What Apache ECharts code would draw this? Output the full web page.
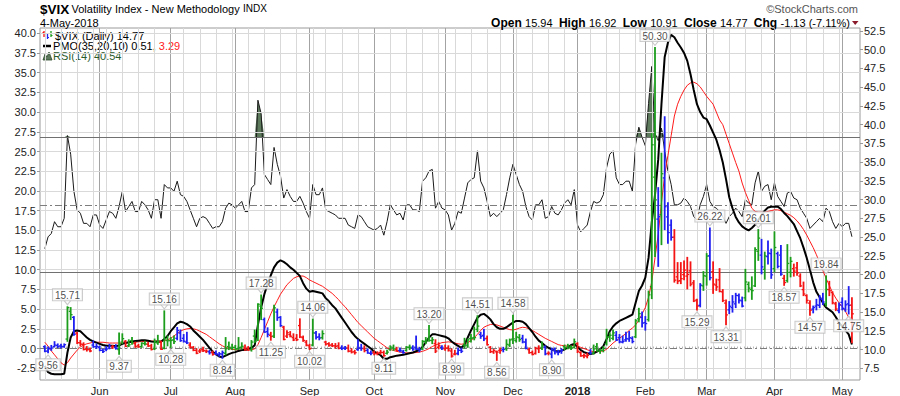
<!DOCTYPE html>
<html><head><meta charset="utf-8">
<script src="https://cdn.jsdelivr.net/npm/echarts@6/dist/echarts.min.js"></script>
<style>html,body{margin:0;padding:0;background:#fff}#c{width:900px;height:396px}</style>
</head><body><div id="c"></div>
<script>
// ---------- categories (trading days) ----------
const holidays = ['2017-05-29','2017-07-04','2017-09-04','2017-11-23','2017-12-25','2018-01-01','2018-01-15','2018-02-19','2018-03-30'];
function tradingDays(a, b){
  const out=[]; let d=new Date(a+'T00:00:00Z'); const e=new Date(b+'T00:00:00Z');
  while(d<=e){const s=d.toISOString().slice(0,10);const w=d.getUTCDay();
    if(w!==0&&w!==6&&holidays.indexOf(s)<0)out.push(s);d=new Date(d.getTime()+86400000);}
  return out;
}
const dates = tradingDays('2017-05-08','2018-05-04');
const padLeft = ['2017-05-05'], padRight = ['2018-05-07','2018-05-08'];

// ---------- $VIX daily OHLC ----------
const open = [
10.40,9.80,10.15,10.40,10.55,10.50,10.40,11.40,15.10,14.30,12.20,10.90,10.70,10.05,10.00,10.60,10.40,
10.30,9.90,10.00,10.20,10.35,10.30,10.00,11.00,11.10,10.50,11.20,10.80,10.50,10.40,10.80,10.70,10.50,10.10,10.90,11.00,10.20,11.20,
11.20,11.30,11.50,12.20,11.50,11.00,10.60,10.30,9.90,9.80,10.00,9.80,9.70,9.60,9.50,9.30,9.40,9.50,10.40,10.20,
10.30,10.10,10.30,10.20,10.20,10.00,11.80,11.30,15.80,14.00,12.40,11.90,11.80,15.00,14.30,13.00,11.80,12.00,11.60,11.50,13.20,11.60,11.00,
10.50,10.60,12.20,11.70,11.60,11.00,10.80,10.60,10.50,10.50,10.20,10.20,10.20,9.80,9.70,10.00,10.20,10.10,9.90,9.50,
9.60,9.50,9.60,9.60,9.50,10.00,10.20,10.00,9.90,9.70,9.90,10.30,10.20,10.30,10.00,10.10,11.10,11.40,11.20,10.80,10.30,10.30,
10.10,10.20,9.80,9.40,9.50,9.90,10.60,10.60,11.50,11.60,12.70,12.00,11.90,11.50,10.30,9.70,9.70,9.90,10.00,10.10,10.60,
11.40,11.20,11.60,11.50,11.00,10.00,9.60,9.50,10.10,10.20,10.30,9.50,9.40,9.90,9.60,9.80,10.40,10.30,10.30,10.30,
10.80,9.60,9.20,9.10,9.60,9.50,10.40,9.80,9.90,10.80,11.70,11.50,11.90,11.60,11.00,11.30,11.40,11.50,11.70,14.10,14.30,
13.60,14.00,18.40,33.00,27.40,28.00,32.90,27.70,26.60,25.00,19.70,19.20,20.00,19.80,20.50,18.90,16.60,15.90,18.50,
19.80,22.50,20.40,18.60,19.30,17.70,16.20,15.30,15.60,16.10,17.20,16.50,16.90,18.70,18.00,18.50,23.10,22.60,20.70,22.40,22.80,
20.80,22.80,22.60,19.50,19.20,20.30,20.80,20.90,19.80,18.00,17.20,16.20,15.40,15.80,15.90,16.70,16.10,18.00,17.60,16.10,15.20,
16.30,15.40,16.10,15.94];
const high = [
10.50,10.35,10.55,11.05,10.75,10.70,10.75,15.71,15.60,14.40,12.30,11.20,10.90,10.40,10.20,11.15,10.75,
10.45,10.05,10.40,10.70,10.55,10.65,12.20,12.10,11.20,11.30,11.60,11.00,10.70,10.90,11.10,10.95,10.70,11.40,11.90,11.10,15.16,11.80,
11.60,11.80,12.95,12.60,12.00,12.30,10.90,10.40,10.10,10.05,10.30,9.95,9.90,9.80,9.80,9.60,9.80,11.60,11.00,10.70,
10.55,11.60,10.90,10.60,10.40,11.20,12.60,16.10,17.28,14.20,12.90,12.30,15.90,15.40,14.40,13.10,12.50,12.40,12.10,12.00,14.10,11.80,11.20,
10.70,14.06,12.40,12.10,12.50,11.10,10.90,10.80,10.80,10.90,10.50,10.40,10.60,10.10,9.90,11.30,10.70,10.50,10.10,9.80,
9.80,9.70,9.90,9.80,9.90,10.50,10.60,10.30,10.20,9.90,10.40,10.60,10.50,11.80,10.30,11.20,11.60,13.20,11.60,11.30,10.90,10.50,
10.60,10.50,10.10,9.90,10.20,10.20,11.50,11.40,12.00,13.00,14.51,12.30,12.70,11.80,10.40,10.00,9.80,10.20,10.30,11.30,11.40,
14.58,12.30,12.00,11.90,11.40,10.20,9.80,10.30,10.50,11.00,10.50,9.70,10.20,10.20,9.90,10.10,10.60,10.70,10.50,11.40,
10.90,9.70,9.40,9.50,10.00,10.60,10.80,10.10,10.40,12.70,12.20,12.60,12.40,12.00,11.80,12.30,12.40,11.70,14.00,15.50,15.00,
14.40,17.80,38.80,50.30,31.60,36.20,41.06,29.60,27.30,26.00,21.60,21.60,21.80,22.30,21.70,19.20,16.70,18.80,20.40,
22.80,26.22,21.70,19.40,20.80,18.00,16.60,16.40,17.20,17.50,17.40,17.00,20.70,19.00,19.70,23.60,26.01,24.70,23.00,24.50,23.40,
25.70,23.00,23.90,19.90,24.00,22.30,21.40,21.60,20.10,19.00,17.30,16.50,15.80,16.70,17.20,17.50,19.84,19.10,17.70,16.30,16.20,
16.90,16.50,18.40,16.92];
const low = [
9.71,9.56,9.90,10.35,10.25,10.20,10.30,11.10,14.00,11.90,10.80,10.50,9.95,9.80,9.70,10.30,10.15,
9.85,9.60,9.85,10.10,10.15,10.05,9.37,10.80,10.40,10.40,10.70,10.30,10.30,10.30,10.60,10.40,9.95,10.00,10.70,10.00,10.10,10.50,
10.28,10.80,11.30,11.10,11.00,10.80,10.20,9.85,9.45,9.60,9.75,9.60,9.40,9.25,9.30,9.10,8.84,9.30,10.00,10.00,
9.95,10.00,10.10,9.90,9.90,9.80,10.90,11.20,14.00,12.30,11.70,11.25,11.60,13.90,13.10,11.30,11.60,11.70,11.20,11.20,11.60,11.10,10.50,
10.02,10.50,11.40,11.30,11.40,10.60,10.45,10.40,10.20,10.10,10.00,10.00,9.70,9.55,9.40,9.90,9.90,9.70,9.50,9.30,
9.30,9.30,9.40,9.11,9.40,9.90,9.90,9.80,9.70,9.50,9.80,10.00,9.90,10.00,9.70,10.00,10.80,11.10,10.80,9.60,10.10,10.00,
9.90,9.80,8.99,9.30,9.30,9.60,10.20,10.30,11.00,11.30,12.40,11.50,11.20,10.60,9.60,9.50,8.56,9.50,9.70,9.90,10.40,
10.80,11.00,11.10,10.90,10.10,9.50,9.30,9.40,9.60,10.00,9.30,9.30,8.90,9.40,9.30,9.50,10.00,10.10,10.00,10.20,
9.60,9.10,8.90,8.90,9.40,9.40,9.80,9.50,9.70,10.60,11.10,11.30,11.20,10.90,10.90,11.10,11.10,10.90,11.60,13.70,13.00,
12.60,13.80,16.80,22.40,21.10,24.00,26.00,24.20,24.60,19.00,18.80,18.80,19.30,18.10,18.50,16.40,15.29,15.70,17.90,
18.60,19.30,17.50,17.90,17.70,16.40,13.31,14.80,15.00,15.60,16.20,15.70,16.50,17.70,16.70,18.40,21.90,20.10,19.40,21.40,19.50,
20.40,20.90,19.90,18.57,19.00,19.70,19.80,19.90,18.40,17.20,16.20,14.57,14.90,15.30,15.60,16.00,15.80,17.20,16.10,15.20,14.90,
15.30,15.10,14.75,10.91];
const close = [
9.77,10.11,10.21,10.60,10.40,10.42,10.65,15.59,14.66,12.04,10.93,10.72,10.02,9.99,9.81,10.38,10.41,
9.89,9.75,10.07,10.45,10.39,10.16,10.70,11.46,10.42,10.64,10.90,10.38,10.37,10.86,10.75,10.48,10.02,11.06,11.06,10.03,11.44,11.18,
11.22,11.07,12.54,11.19,11.11,10.89,10.30,9.90,9.51,9.82,9.89,9.79,9.58,9.36,9.43,9.43,9.60,10.11,10.29,10.26,
10.09,10.28,10.44,10.03,10.00,11.00,11.11,16.04,15.51,12.33,12.04,11.74,15.55,14.26,13.19,11.35,12.25,11.78,11.28,11.32,11.70,11.22,10.59,
10.13,12.23,11.63,11.55,12.12,10.73,10.58,10.50,10.44,10.17,10.15,10.18,9.78,9.67,9.59,10.21,10.17,9.87,9.55,9.51,
9.45,9.51,9.63,9.19,9.65,10.33,10.08,9.85,9.91,9.61,10.31,10.31,10.07,10.05,9.97,11.07,11.16,11.23,11.30,9.80,10.50,10.18,
10.20,9.93,9.14,9.40,9.89,9.78,10.50,11.29,11.50,11.59,13.13,11.76,11.43,10.65,9.73,9.88,9.67,9.87,10.03,10.70,11.28,
11.43,11.68,11.33,11.02,10.16,9.58,9.34,10.18,10.18,10.49,9.42,9.53,10.03,9.72,9.62,9.90,10.25,10.47,10.18,11.04,
9.77,9.15,9.22,9.22,9.52,10.08,9.82,9.88,10.16,11.66,11.91,12.22,11.27,11.03,11.10,11.47,11.58,11.08,13.84,14.79,13.54,
13.47,17.31,37.32,29.98,27.73,33.46,29.06,25.61,24.97,19.26,19.13,19.46,20.60,20.02,18.72,16.49,15.80,18.59,19.85,
22.47,19.59,18.73,18.36,17.76,16.54,14.64,15.78,16.35,17.23,16.59,15.80,19.02,18.20,17.86,23.34,24.87,21.03,22.50,22.87,19.97,
23.62,21.10,20.06,18.94,21.49,21.77,20.47,20.24,18.49,17.41,16.56,15.25,15.60,15.96,16.88,16.34,18.02,17.84,16.24,15.41,15.93,
15.49,15.97,15.90,14.77];
// bar colour class per day (g = green, r = red, b = blue)
const impulse = ('bbbbbbbggbrrrrrbb'+'bbbbrbggrggrrggrrggrgg'+'ggbbbbrrrrrrbrbbbggg'+'gggrrggggbbrgbbrrrrrrrr'+
  'rgbbgrrrrrbbrrrbbrbb'+'rrrrgggrbbggbbbggggrrb'+'rrrrbbgggggbbrrrrrbgg'+'gggbbrrrrgbrbbbbgggg'+
  'rrrrbggggggg'+'bbbbbbggb'+'bgggbgbbbrrrrrrrrbg'+'gbrrrrrbbbbbgggggbgbb'+'gbbrggrrrrrrbbbbgrrrb'+'bbbr').split('');

// ---------- PMO(35,20,10) and signal ----------
const pmo = [
-2.2,-3.0,-3.2,-3.25,-3.26,-3.26,-3.2,-0.5,1.4,2.2,2.3,2.2,1.8,1.4,1.1,0.9,0.75,
0.6,0.45,0.35,0.35,0.35,0.3,0.4,0.6,0.7,0.8,0.9,0.95,1.0,1.05,1.05,1.0,0.9,0.85,0.9,0.85,1.2,1.6,
2.2,2.7,3.2,3.4,3.3,3.1,2.8,2.3,1.9,1.5,1.1,0.6,0.1,-0.4,-0.7,-1.0,-1.1,-0.9,-0.7,-0.55,
-0.45,-0.3,-0.2,-0.15,-0.05,0.1,0.4,3.0,5.2,6.9,8.2,9.3,10.3,10.9,11.2,11.0,10.7,10.3,10.0,9.6,9.2,8.3,7.6,
7.2,7.3,7.2,7.1,7.0,6.4,6.0,5.5,5.1,4.5,3.9,3.3,2.7,2.1,1.6,1.2,0.9,0.6,0.3,0.0,
-0.4,-0.6,-0.85,-1.3,-1.3,-1.1,-1.0,-0.9,-0.85,-0.8,-0.7,-0.6,-0.5,-0.35,-0.2,0.2,0.8,1.4,1.8,1.8,1.7,1.6,
1.5,1.3,0.9,0.6,0.35,0.1,0.5,1.4,2.3,3.1,3.9,4.3,4.4,4.1,3.7,3.1,2.7,2.5,2.5,2.7,3.0,
3.3,3.5,3.5,3.4,3.1,2.6,2.1,1.5,1.0,0.7,0.35,0.1,-0.1,-0.3,-0.35,-0.3,-0.1,0.15,0.45,0.6,
0.2,-0.2,-0.45,-0.6,-0.7,-0.6,-0.4,-0.1,0.3,1.2,2.2,2.8,3.2,3.5,3.7,3.9,4.1,4.3,5.8,7.3,8.0,
9.0,11.5,16.0,19.5,24.0,31.0,37.0,38.8,39.8,39.5,38.8,38.2,37.5,36.5,34.8,32.8,31.0,30.0,29.3,
29.1,28.3,27.4,26.5,25.2,23.6,21.5,19.2,17.8,16.7,16.0,15.5,15.2,15.0,15.3,15.7,16.3,16.9,17.5,17.9,18.0,
18.0,18.0,17.7,17.2,16.8,16.3,15.8,14.9,14.0,12.8,11.5,10.0,8.4,7.2,6.5,5.8,5.2,4.9,4.6,4.0,3.3,
2.8,2.3,1.8,0.51];
const pmoSignal = [
0.8,0.3,-0.3,-0.8,-1.3,-1.8,-2.1,-1.8,-1.2,-0.7,-0.2,0.2,0.45,0.6,0.7,0.8,0.8,
0.8,0.8,0.75,0.7,0.7,0.7,0.7,0.7,0.7,0.75,0.8,0.8,0.85,0.9,0.9,0.95,0.95,0.95,0.95,0.95,1.0,1.1,
1.3,1.6,1.9,2.2,2.4,2.5,2.55,2.5,2.4,2.2,2.0,1.8,1.5,1.2,0.9,0.6,0.35,0.15,0.0,-0.1,
-0.15,-0.2,-0.2,-0.2,-0.2,-0.15,-0.05,0.5,1.4,2.4,3.4,4.4,5.3,6.1,6.9,7.5,8.1,8.5,8.9,9.1,9.2,9.2,9.0,
8.7,8.5,8.3,8.1,7.9,7.6,7.3,7.0,6.6,6.2,5.7,5.3,4.8,4.3,3.8,3.3,2.9,2.5,2.1,1.7,
1.3,1.0,0.7,0.4,0.1,-0.1,-0.25,-0.35,-0.45,-0.5,-0.55,-0.55,-0.55,-0.5,-0.45,-0.35,-0.2,0.0,0.25,0.45,0.6,0.75,
0.8,0.85,0.8,0.7,0.6,0.55,0.6,0.75,1.0,1.4,1.8,2.3,2.7,2.9,3.05,3.1,3.0,2.85,2.7,2.55,2.4,
2.35,2.45,2.6,2.7,2.65,2.5,2.3,2.05,1.8,1.55,1.3,1.1,0.9,0.7,0.5,0.4,0.35,0.3,0.35,0.4,
0.3,0.15,0.0,-0.15,-0.3,-0.4,-0.4,-0.35,-0.3,-0.1,0.3,0.7,1.0,1.3,1.6,1.9,2.3,2.6,3.0,3.6,4.4,
5.2,6.5,8.5,11.5,14.5,18.5,22.0,24.5,27.0,29.5,31.0,32.0,32.8,33.4,33.7,33.8,33.6,33.2,32.6,
32.0,31.5,31.0,30.0,29.0,28.4,27.2,26.0,24.8,23.6,22.5,21.0,19.8,18.8,17.8,17.4,17.3,17.3,17.3,17.4,17.5,
17.6,17.6,17.5,17.3,17.1,16.9,16.6,16.2,15.7,15.1,14.4,13.6,12.8,11.9,10.9,9.9,8.9,8.0,7.1,6.4,5.8,
5.3,4.7,3.95,3.29];

// ---------- RSI(14) ----------
const rsi = [
37,40.5,41.5,45,43.5,43.5,46,70.5,65,54,48.5,47.5,44.5,44.5,43.5,47,47,
44,43,45.5,48,47.5,46,49.5,54,48,49.5,51,48,48,51,50,48.5,46,51.5,51.5,46,56,55,
55,54,57,53,52.5,51,48.5,46,43.5,46,46.5,46,44.5,43,43.5,43.5,45,49,50.5,50,
49,50,51,48,48,55,56,81,77,59,57.5,56,67,62,58.5,52,54.5,52.5,51,51,52.5,50.5,48,
46,56,53,53,55,48.5,48,47.5,47,46,46,46,44,43.5,43,47,46.5,45,43.5,43,
42.5,43,44,41,45,50,48.5,47,47.5,45.5,50,50,48.5,48.5,48,57,58,60,60.5,49,51,49,
48.5,47,42.5,44.5,48,47.5,52,56.5,57.5,58,66,57,55,51,46.5,47.5,46.5,47.5,48.5,53,58,
62,59,56,54,49.5,46.5,45.5,50,50,51.5,46,46.5,49.5,47.5,47,48.5,50.5,51.5,50,54.5,
44,42,43,44,48,51,50.5,51,53,61,65,66,58,56,56,57,57,54,68,73,70,
67.5,80,91,71,69,72.7,66,60,56,50,50,50.5,52,51,49.5,46.5,45.5,50,52.5,
56,51,49.5,49,48,46.5,44.5,46.5,47.5,49,48,46.5,51.5,50.5,50,56.5,60,54,55.5,56,51.5,
56.5,52.5,51,49.5,53.5,54,52,51.5,49,47.5,46,43,44,45,46,45,49,48,45,43,44.5,
43.5,44.5,44.5,40.54];

// ---------- swing annotations [day index, value] ----------
const swingHighs = [[7,15.71],[37,15.16],[67,17.28],[83,14.06],[119,13.20],[134,14.51],[145,14.58],[189,50.30],[206,26.22],[221,26.01],[242,19.84]];
const swingLows = [[1,9.56],[23,9.37],[39,10.28],[55,8.84],[70,11.25],[82,10.02],[105,9.11],[126,8.99],[140,8.56],[157,8.90],[202,15.29],[211,13.31],[229,18.57],[237,14.57],[249,14.75]];

// ---------- tick labels ----------
const leftTicks = [-2.5,0,2.5,5,7.5,10,12.5,15,17.5,20,22.5,25,27.5,30,32.5,35,37.5,40];
const rightTicks = [7.5,10,12.5,15,17.5,20,22.5,25,27.5,30,32.5,35,37.5,40,42.5,45,47.5,50,52.5];
const monthNames = ['Jan','Feb','Mar','Apr','May','Jun','Jul','Aug','Sep','Oct','Nov','Dec'];

// ---------- build ----------
const cats = padLeft.concat(dates, padRight);
const off = padLeft.length;
const monthStart = {}, weekStart = [];
dates.forEach((d,k)=>{
  if(k>0){
    const p = dates[k-1];
    if(d.slice(5,7)!==p.slice(5,7)) monthStart[k+off] = d;
    const wd = new Date(d+'T00:00:00Z').getUTCDay(), wp = new Date(p+'T00:00:00Z').getUTCDay();
    if(wd<=wp) weekStart.push(k+off);
  } else weekStart.push(k+off);
});
const colorOf = {g:'#1c9e1c', r:'#f41414', b:'#1f1ff2'};
const FONT = "'Liberation Sans', Arial, sans-serif";
const ohlc = dates.map((d,k)=>[k+off, open[k], high[k], low[k], close[k]]);

function renderBar(params, api){
  const k = params.dataIndex;
  const xi = api.value(0);
  const pH = api.coord([xi, api.value(2)]);
  const pL = api.coord([xi, api.value(3)]);
  const pO = api.coord([xi, api.value(1)]);
  const pC = api.coord([xi, api.value(4)]);
  const x = pH[0];
  const col = colorOf[impulse[k]];
  return {type:'group', children:[
    {type:'line', shape:{x1:x,y1:pH[1]-0.5,x2:x,y2:pL[1]+0.5}, style:{stroke:col,lineWidth:1.8}},
    {type:'line', shape:{x1:x-1.9,y1:pO[1],x2:x,y2:pO[1]}, style:{stroke:col,lineWidth:1.3}},
    {type:'line', shape:{x1:x,y1:pC[1],x2:x+1.9,y2:pC[1]}, style:{stroke:col,lineWidth:1.3}}
  ]};
}

const vLines = weekStart.filter(i=>!monthStart[i]).map(i=>({xAxis:i, lineStyle:{color:'#d9d9d9',width:1,type:'solid'}}))
  .concat(Object.keys(monthStart).map(i=>({xAxis:+i, lineStyle:{color:'#a3a3a3',width:1,type:'solid'}})));
const hLines = leftTicks.filter(v=>v!==0).map(v=>({yAxis:v, lineStyle:{color:'#d9d9d9',width:1,type:'solid'}}))
  .concat([{yAxis:0, lineStyle:{color:'#7d7d7d',width:1,type:[7,3,2,3]}}]);
const dashDot = [7,3,2,3];

const labelBox = {show:true, fontSize:10, fontFamily:FONT, color:'#1a1a1a', backgroundColor:'#fff',
  borderColor:'#bdbdbd', borderWidth:1, padding:[1,2,0,2], lineHeight:10, distance:-1,
  formatter:p=>p.value[1].toFixed(2)};

const option = {
  animation:false,
  grid:{left:40, right:40, top:28, bottom:16, show:true, borderColor:'#9a9a9a', borderWidth:1, backgroundColor:'transparent', outerBoundsMode:'none'},
  xAxis:{type:'category', data:cats, boundaryGap:true,
    axisLine:{show:false},
    axisTick:{show:true, interval:0, inside:true, length:2, lineStyle:{color:'#b5b5b5'}},
    splitLine:{show:false},
    axisLabel:{interval:(i)=>!!monthStart[i], margin:5, fontSize:11, fontFamily:FONT, color:'#222',
      formatter:(v,i)=>{const m=+v.slice(5,7); return m===1?'{y|'+v.slice(0,4)+'}':monthNames[m-1];},
      rich:{y:{fontWeight:'bold', fontSize:11.5, fontFamily:FONT, color:'#222'}}}},
  yAxis:[
    {type:'value', position:'left', min:-3.99, max:40.67,
      axisLine:{show:false}, splitLine:{show:false},
      axisTick:{show:true, length:3, customValues:leftTicks, lineStyle:{color:'#999'}},
      axisLabel:{customValues:leftTicks, margin:4, fontSize:11, fontFamily:FONT, color:'#222', formatter:v=>v.toFixed(1)}},
    {type:'value', position:'right', min:5.94, max:52.90,
      axisLine:{show:false}, splitLine:{show:false},
      axisTick:{show:true, length:3, customValues:rightTicks, lineStyle:{color:'#999'}},
      axisLabel:{customValues:rightTicks, margin:4, fontSize:11, fontFamily:FONT, color:'#222', formatter:v=>v.toFixed(1)}},
    {type:'value', position:'left', min:-1.91, max:102.39, show:false, splitLine:{show:false}}
  ],
  series:[
    {name:'grid', type:'line', yAxisIndex:0, data:[], z:1, silent:true,
      markLine:{silent:true, symbol:['none','none'], label:{show:false}, animation:false, data:vLines.concat(hLines)}},
    {name:'rsiRef', type:'line', yAxisIndex:2, data:[], z:2, silent:true,
      markLine:{silent:true, symbol:['none','none'], label:{show:false}, animation:false, data:[
        {yAxis:70, lineStyle:{color:'#707070',width:1,type:'solid'}},
        {yAxis:30, lineStyle:{color:'#707070',width:1,type:'solid'}},
        {yAxis:50, lineStyle:{color:'#7d7d7d',width:1,type:dashDot}}]}},
    {name:'rsiBase', type:'line', yAxisIndex:2, stack:'ob', z:3, silent:true, symbol:'none',
      lineStyle:{opacity:0}, data:rsi.map((v,k)=>[k+off,70])},
    {name:'rsiOver', type:'line', yAxisIndex:2, stack:'ob', z:3, silent:true, symbol:'none',
      lineStyle:{opacity:0}, areaStyle:{color:'#5d7a5d', opacity:1}, data:rsi.map((v,k)=>[k+off,Math.max(0,v-70)])},
    {name:'RSI(14)', type:'line', yAxisIndex:2, z:4, symbol:'none', silent:true,
      lineStyle:{color:'#1a1a1a', width:1}, data:rsi.map((v,k)=>[k+off,v])},
    {name:'Signal', type:'line', yAxisIndex:0, z:5, symbol:'none', silent:true,
      lineStyle:{color:'#ff1a1a', width:1}, data:pmoSignal.map((v,k)=>[k+off,v])},
    {name:'PMO', type:'line', yAxisIndex:0, z:6, symbol:'none', silent:true,
      lineStyle:{color:'#000', width:2}, data:pmo.map((v,k)=>[k+off,v])},
    {name:'$VIX', type:'custom', yAxisIndex:1, z:7, silent:true, renderItem:renderBar,
      encode:{x:0, y:[1,2,3,4]}, data:ohlc, clip:true},
    {name:'hi', type:'scatter', yAxisIndex:1, z:8, silent:true,
      symbol:'path://M0,0 L8,0 L4,5 Z', symbolSize:[8,5], symbolOffset:[0,-4.5],
      itemStyle:{color:'#fff', borderColor:'#bdbdbd', borderWidth:1},
      label:Object.assign({position:'top'}, labelBox),
      data:swingHighs.map(([k,v])=>[k+off,v])},
    {name:'lo', type:'scatter', yAxisIndex:1, z:8, silent:true,
      symbol:'path://M4,0 L8,5 L0,5 Z', symbolSize:[8,5], symbolOffset:[0,4.5],
      itemStyle:{color:'#fff', borderColor:'#bdbdbd', borderWidth:1},
      label:Object.assign({position:'bottom'}, labelBox),
      data:swingLows.map(([k,v])=>[k+off,v])}
  ],
  graphic:[
    {type:'text', x:40, y:9, style:{text:'$VIX', font:'bold 13.5px '+FONT, fill:'#000', textVerticalAlign:'middle'}},
    {type:'text', x:71.5, y:8.6, style:{text:'Volatility Index - New Methodology', font:'11px '+FONT, fill:'#000', textVerticalAlign:'middle'}},
    {type:'text', x:243, y:8.9, style:{text:'INDX', font:'10px '+FONT, fill:'#000', textVerticalAlign:'middle'}},
    {type:'text', x:40, y:22.6, style:{text:'4-May-2018', font:'11px '+FONT, fill:'#000', textVerticalAlign:'middle'}},
    {type:'text', x:858, y:9, style:{text:'\u00A9StockCharts.com', font:'11px '+FONT, fill:'#555', textAlign:'right', textVerticalAlign:'middle'}},
    {type:'text', x:850, y:23, style:{
      text:'{b|Open} {v|15.94} {b|High} {v|16.92} {b|Low} {v|10.91} {b|Close} {v|14.77} {b|Chg} {v|-1.13 (-7.11%)}',
      textAlign:'right', textVerticalAlign:'middle',
      rich:{b:{font:'bold 12px '+FONT, fill:'#000', padding:[0,0,0,3]}, v:{font:'11px '+FONT, fill:'#000'}}}},
    {type:'polygon', shape:{points:[[852,21],[858.5,21],[855.2,25]]}, style:{fill:'#8b1a2b'}},
    // legend icons
    {type:'line', shape:{x1:44,y1:31,x2:44,y2:37}, style:{stroke:'#f41414',lineWidth:1.3}},
    {type:'line', shape:{x1:42.5,y1:32.5,x2:44,y2:32.5}, style:{stroke:'#f41414',lineWidth:1}},
    {type:'line', shape:{x1:47.5,y1:33,x2:47.5,y2:39}, style:{stroke:'#1f1ff2',lineWidth:1.3}},
    {type:'line', shape:{x1:47.5,y1:37.5,x2:49,y2:37.5}, style:{stroke:'#1f1ff2',lineWidth:1}},
    {type:'line', shape:{x1:51,y1:31,x2:51,y2:37}, style:{stroke:'#1c9e1c',lineWidth:1.3}},
    {type:'line', shape:{x1:51,y1:35.5,x2:52.5,y2:35.5}, style:{stroke:'#1c9e1c',lineWidth:1}},
    {type:'text', x:55, y:35.5, style:{text:'$VIX (Daily) 14.77', font:'11px '+FONT, fill:'#000', textVerticalAlign:'middle'}},
    {type:'line', shape:{x1:43,y1:46,x2:51,y2:46}, style:{stroke:'#000',lineWidth:2.5}},
    {type:'text', x:53, y:45.8, style:{text:'{a|PMO(35,20,10) 0.51, }{r|3.29}', textVerticalAlign:'middle',
      rich:{a:{font:'11px '+FONT, fill:'#000'}, r:{font:'11px '+FONT, fill:'#ff1a1a'}}}},
    {type:'polygon', shape:{points:[[43,60],[45,54],[47,57],[49,52],[52,60]]}, style:{fill:'#5d7a5d', stroke:'#2c4a2c', lineWidth:0.8}},
    {type:'text', x:53, y:56.3, style:{text:'RSI(14) 40.54', font:'11px '+FONT, fill:'#2a5a2a', textVerticalAlign:'middle'}}
  ]
};
const chart = echarts.init(document.getElementById('c'), null, {renderer:'svg', width:900, height:396});
chart.setOption(option);
</script>
</body></html>
